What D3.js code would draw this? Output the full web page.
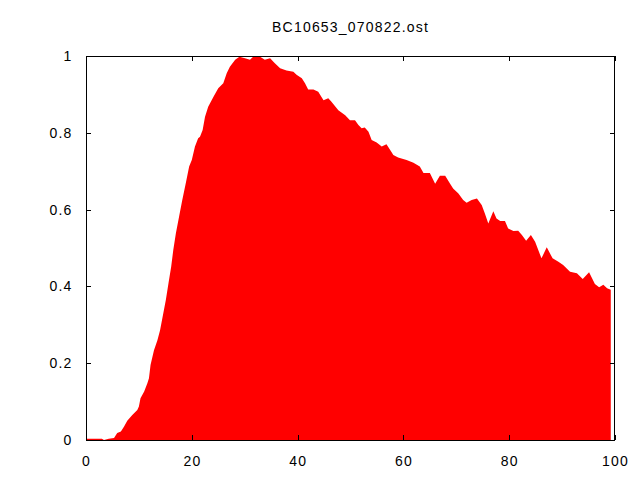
<!DOCTYPE html>
<html><head><meta charset="utf-8">
<script src="https://cdn.jsdelivr.net/npm/d3@7"></script>
<style>body{margin:0;background:#fff;} svg{display:block;} text{font-family:"Liberation Sans",Arial,sans-serif;}</style>
</head><body>
<script>
const title = "BC10653_070822.ost";
const xTicks = [0, 20, 40, 60, 80, 100];
const yTicks = [0, 0.2, 0.4, 0.6, 0.8, 1];
const xs = [0,3.0,3.4,4.3,5.3,5.9,6.6,7.2,7.8,8.75,9.7,10.0,10.3,11.0,11.6,11.9,12.2,12.85,13.5,14.0,15.1,15.6,16.1,16.5,17.0,17.6,18.2,18.85,19.5,20.0,20.6,21.2,21.55,22.05,22.5,23.1,24.1,25.0,25.95,26.6,27.2,28.2,29.0,30.05,31.0,31.6,32.9,33.8,34.8,35.7,36.7,37.9,39.2,39.8,40.8,41.4,42.0,43.0,43.9,44.9,45.8,46.4,47.7,49.0,49.9,50.85,51.5,52.1,52.7,53.4,54.0,54.95,55.9,56.8,57.5,58.1,59.0,60.6,61.9,63.1,63.8,65.0,66.0,66.9,67.9,68.8,69.4,70.4,71.3,71.95,72.9,73.9,74.8,75.4,76.05,77.0,77.6,78.3,79.2,79.8,80.8,81.7,82.4,83.2,84.1,84.9,86.1,87.1,88.2,89.3,90.2,91.5,92.8,93.9,95.1,96.2,97.0,97.8,98.5,99.2];
const ys = [0.003,0.003,0.0,0.003,0.005,0.018,0.022,0.035,0.05,0.065,0.078,0.087,0.109,0.126,0.148,0.161,0.195,0.234,0.26,0.286,0.365,0.409,0.451,0.495,0.539,0.582,0.625,0.668,0.712,0.729,0.764,0.786,0.79,0.807,0.842,0.868,0.894,0.916,0.929,0.955,0.972,0.99,0.998,0.994,0.99,0.998,0.998,0.99,0.994,0.981,0.968,0.962,0.959,0.951,0.942,0.929,0.913,0.913,0.907,0.885,0.89,0.881,0.859,0.846,0.833,0.833,0.82,0.812,0.814,0.803,0.781,0.775,0.764,0.77,0.755,0.742,0.736,0.729,0.722,0.712,0.695,0.695,0.667,0.688,0.688,0.668,0.655,0.642,0.625,0.618,0.625,0.629,0.612,0.59,0.564,0.596,0.577,0.57,0.57,0.551,0.544,0.545,0.534,0.519,0.534,0.516,0.473,0.502,0.473,0.464,0.456,0.438,0.434,0.419,0.437,0.406,0.398,0.404,0.395,0.391];

const W = 640, H = 480;
const L = 86, R = 615, T = 56, B = 440;
const FS = 14, LS = 1.2;
const svg = d3.select("body").append("svg").attr("width", W).attr("height", H);
const x = d3.scaleLinear().domain([0, 100]).range([L, R]);
const y = d3.scaleLinear().domain([0, 1]).range([B, T]);
const data = xs.map((v, i) => [v, ys[i]]);

svg.append("path").datum(data)
  .attr("d", d3.area().x(d => x(d[0])).y0(y(0)).y1(d => y(d[1])))
  .attr("fill", "#ff0000");

const g = svg.append("g");
g.append("rect").attr("x", L + 0.5).attr("y", T + 0.5).attr("width", R - L - 1).attr("height", B - T)
  .attr("fill", "none").attr("stroke", "#000").attr("stroke-width", 1);

const tl = 5;
xTicks.forEach(t => {
  const px = Math.round(x(t)) + 0.5;
  g.append("line").attr("x1", px).attr("x2", px).attr("y1", B).attr("y2", B - tl).attr("stroke", "#000");
  g.append("line").attr("x1", px).attr("x2", px).attr("y1", T).attr("y2", T + tl).attr("stroke", "#000");
  g.append("text").attr("x", x(t) + LS / 2).attr("y", 465.5).attr("text-anchor", "middle")
    .attr("font-size", FS).attr("letter-spacing", LS).attr("fill", "#000").text(d3.format("d")(t));
});
yTicks.forEach(t => {
  const py = Math.round(y(t)) + 0.5;
  g.append("line").attr("x1", L).attr("x2", L + tl).attr("y1", py).attr("y2", py).attr("stroke", "#000");
  g.append("line").attr("x1", R).attr("x2", R - tl).attr("y1", py).attr("y2", py).attr("stroke", "#000");
  g.append("text").attr("x", 72.5).attr("y", y(t) + 5).attr("text-anchor", "end")
    .attr("font-size", FS).attr("letter-spacing", LS).attr("fill", "#000").text(d3.format("")(t));
});

svg.append("text").attr("x", 350 + LS / 2).attr("y", 32).attr("text-anchor", "middle")
  .attr("font-size", FS).attr("letter-spacing", LS).attr("fill", "#000").text(title);
</script>
</body></html>
